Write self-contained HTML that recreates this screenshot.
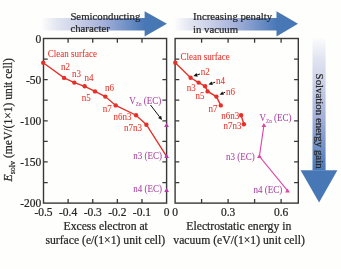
<!DOCTYPE html>
<html><head><meta charset="utf-8"><style>
html,body{margin:0;padding:0;background:#fefefc;width:341px;height:269px;overflow:hidden}
svg{display:block;font-family:"Liberation Serif",serif;filter:blur(0.35px)}
</style></head><body>
<svg width="341" height="269" viewBox="0 0 341 269">
<defs>
<linearGradient id="gh1" gradientUnits="userSpaceOnUse" x1="42" x2="145" y1="0" y2="0"><stop offset="0" stop-color="#fcfcfd"/><stop offset="0.15" stop-color="#e2e5f1"/><stop offset="0.35" stop-color="#c9cfe7"/><stop offset="0.6" stop-color="#a3b0d9"/><stop offset="1" stop-color="#4877b6"/></linearGradient>
<linearGradient id="gh2" gradientUnits="userSpaceOnUse" x1="175" x2="277" y1="0" y2="0"><stop offset="0" stop-color="#fcfcfd"/><stop offset="0.15" stop-color="#e2e5f1"/><stop offset="0.35" stop-color="#c9cfe7"/><stop offset="0.6" stop-color="#a3b0d9"/><stop offset="1" stop-color="#4877b6"/></linearGradient>
<linearGradient id="gv" gradientUnits="userSpaceOnUse" x1="0" x2="0" y1="38" y2="171"><stop offset="0" stop-color="#fcfcfd"/><stop offset="0.15" stop-color="#e2e5f1"/><stop offset="0.35" stop-color="#c9cfe7"/><stop offset="0.6" stop-color="#a3b0d9"/><stop offset="1" stop-color="#4877b6"/></linearGradient>
</defs>
<path d="M42 17.9H145V30.4H42Z" fill="url(#gh1)"/><path d="M144.6 11.3L166.9 23.8L144.6 36.4Z" fill="#4877b6"/>
<path d="M175 17.9H277V30.4H175Z" fill="url(#gh2)"/><path d="M276.5 11.3L298 23.8L276.5 36.4Z" fill="#4877b6"/>
<path d="M312.5 38.2H325.6V170.6H312.5Z" fill="url(#gv)"/><path d="M300.6 170.2L319.1 202.4L337.4 170.2Z" fill="#4877b6"/>
<text x="70.4" y="19.8" font-size="10.75" fill="#262626" stroke="#262626" stroke-width="0.22" text-anchor="start">Semiconducting</text>
<text x="70.4" y="32.3" font-size="10.75" fill="#262626" stroke="#262626" stroke-width="0.22" text-anchor="start">character</text>
<text x="193" y="20.3" font-size="10.75" fill="#262626" stroke="#262626" stroke-width="0.22" text-anchor="start">Increasing penalty</text>
<text x="193" y="32.7" font-size="10.75" fill="#262626" stroke="#262626" stroke-width="0.22" text-anchor="start">in vacuum</text>
<text transform="translate(316,73.6) rotate(90)" font-size="10.85" fill="#262626" stroke="#262626" stroke-width="0.22">Solvation energy gain</text>
<rect x="43.5" y="38.5" width="123.10" height="164.60" fill="none" stroke="#383838" stroke-width="1.4"/>
<path d="M68.12 203.1v-4.2M68.12 38.5v4.2M92.74 203.1v-4.2M92.74 38.5v4.2M117.36 203.1v-4.2M117.36 38.5v4.2M141.98 203.1v-4.2M141.98 38.5v4.2M43.5 59.08h4.2M166.6 59.08h-4.2M43.5 79.65h4.2M166.6 79.65h-4.2M43.5 100.22h4.2M166.6 100.22h-4.2M43.5 120.80h4.2M166.6 120.80h-4.2M43.5 141.38h4.2M166.6 141.38h-4.2M43.5 161.95h4.2M166.6 161.95h-4.2M43.5 182.53h4.2M166.6 182.53h-4.2" stroke="#383838" stroke-width="1.3" fill="none"/>
<rect x="175.1" y="38.5" width="123.20" height="164.60" fill="none" stroke="#383838" stroke-width="1.4"/>
<path d="M201.60 203.1v-4.2M201.60 38.5v4.2M228.10 203.1v-4.2M228.10 38.5v4.2M254.60 203.1v-4.2M254.60 38.5v4.2M281.10 203.1v-4.2M281.10 38.5v4.2M175.1 59.08h4.2M298.3 59.08h-4.2M175.1 79.65h4.2M298.3 79.65h-4.2M175.1 100.22h4.2M298.3 100.22h-4.2M175.1 120.80h4.2M298.3 120.80h-4.2M175.1 141.38h4.2M298.3 141.38h-4.2M175.1 161.95h4.2M298.3 161.95h-4.2M175.1 182.53h4.2M298.3 182.53h-4.2" stroke="#383838" stroke-width="1.3" fill="none"/>
<text x="41.3" y="42.5" font-size="11.5" fill="#262626" stroke="#262626" stroke-width="0.22" text-anchor="end">0</text>
<text x="41.3" y="83.65" font-size="11.5" fill="#262626" stroke="#262626" stroke-width="0.22" text-anchor="end">-50</text>
<text x="41.3" y="124.8" font-size="11.5" fill="#262626" stroke="#262626" stroke-width="0.22" text-anchor="end">-100</text>
<text x="41.3" y="165.95" font-size="11.5" fill="#262626" stroke="#262626" stroke-width="0.22" text-anchor="end">-150</text>
<text x="41.3" y="207.1" font-size="11.5" fill="#262626" stroke="#262626" stroke-width="0.22" text-anchor="end">-200</text>
<text x="43.5" y="216.0" font-size="11.5" fill="#262626" stroke="#262626" stroke-width="0.22" text-anchor="middle">-0.5</text>
<text x="68.12" y="216.0" font-size="11.5" fill="#262626" stroke="#262626" stroke-width="0.22" text-anchor="middle">-0.4</text>
<text x="92.74" y="216.0" font-size="11.5" fill="#262626" stroke="#262626" stroke-width="0.22" text-anchor="middle">-0.3</text>
<text x="117.35999999999999" y="216.0" font-size="11.5" fill="#262626" stroke="#262626" stroke-width="0.22" text-anchor="middle">-0.2</text>
<text x="141.98" y="216.0" font-size="11.5" fill="#262626" stroke="#262626" stroke-width="0.22" text-anchor="middle">-0.1</text>
<text x="166.6" y="216.0" font-size="11.5" fill="#262626" stroke="#262626" stroke-width="0.22" text-anchor="middle">0</text>
<text x="175.1" y="216.0" font-size="11.5" fill="#262626" stroke="#262626" stroke-width="0.22" text-anchor="middle">0</text>
<text x="228.1" y="216.0" font-size="11.5" fill="#262626" stroke="#262626" stroke-width="0.22" text-anchor="middle">0.3</text>
<text x="281.1" y="216.0" font-size="11.5" fill="#262626" stroke="#262626" stroke-width="0.22" text-anchor="middle">0.6</text>
<text x="105.7" y="230.4" font-size="11.7" fill="#262626" stroke="#262626" stroke-width="0.22" text-anchor="middle">Excess electron at</text>
<text x="105.3" y="244.4" font-size="11.7" fill="#262626" stroke="#262626" stroke-width="0.22" text-anchor="middle">surface (e/(1×1) unit cell)</text>
<text x="238.8" y="230.4" font-size="11.7" fill="#262626" stroke="#262626" stroke-width="0.22" text-anchor="middle">Electrostatic energy in</text>
<text x="239.1" y="244.4" font-size="11.7" fill="#262626" stroke="#262626" stroke-width="0.22" text-anchor="middle">vacuum (eV/(1×1) unit cell)</text>
<text transform="translate(12.0,119.8) rotate(-90)" font-size="11.6" fill="#262626" stroke="#262626" stroke-width="0.22" text-anchor="middle"><tspan font-style="italic">E</tspan><tspan font-size="8" dy="2.5">solv</tspan><tspan dy="-2.5"> (meV/(1×1) unit cell)</tspan></text>
<polyline points="43.2,62.8 64.1,77.9 74.3,82.6 84.7,86.3 95.0,91.4 105.3,96.6 115.7,105.4 136.1,115.2 146.4,124.7 166.6,156.3" fill="none" stroke="#e5302a" stroke-width="1.35"/>
<circle cx="43.2" cy="62.8" r="2.2" fill="#e5302a"/>
<circle cx="64.1" cy="77.9" r="2.2" fill="#e5302a"/>
<circle cx="74.3" cy="82.6" r="2.2" fill="#e5302a"/>
<circle cx="84.7" cy="86.3" r="2.2" fill="#e5302a"/>
<circle cx="95.0" cy="91.4" r="2.2" fill="#e5302a"/>
<circle cx="105.3" cy="96.6" r="2.2" fill="#e5302a"/>
<circle cx="115.7" cy="105.4" r="2.2" fill="#e5302a"/>
<circle cx="136.1" cy="115.2" r="2.2" fill="#e5302a"/>
<circle cx="146.4" cy="124.7" r="2.2" fill="#e5302a"/>
<path d="M164.10 127.00L168.90 127.00L166.50 123.00Z" fill="#b83aa8"/>
<path d="M164.20 158.10L169.00 158.10L166.60 154.10Z" fill="#b83aa8"/>
<path d="M164.20 192.00L169.00 192.00L166.60 188.00Z" fill="#b83aa8"/>
<polyline points="175.3,62.7 190.6,77.8 198.6,82.6 205.1,86.2 207.6,91.4 216.4,96.6 220.8,105.4" fill="none" stroke="#e5302a" stroke-width="1.35"/>
<polyline points="241.1,115.2 243.9,124.2" fill="none" stroke="#e5302a" stroke-width="1.35"/>
<circle cx="175.3" cy="62.7" r="2.2" fill="#e5302a"/>
<circle cx="190.6" cy="77.8" r="2.2" fill="#e5302a"/>
<circle cx="198.6" cy="82.6" r="2.2" fill="#e5302a"/>
<circle cx="205.1" cy="86.2" r="2.2" fill="#e5302a"/>
<circle cx="207.6" cy="91.4" r="2.2" fill="#e5302a"/>
<circle cx="216.4" cy="96.6" r="2.2" fill="#e5302a"/>
<circle cx="220.8" cy="105.4" r="2.2" fill="#e5302a"/>
<circle cx="241.1" cy="115.2" r="2.2" fill="#e5302a"/>
<circle cx="243.9" cy="124.2" r="2.2" fill="#e5302a"/>
<polyline points="263.9,125.3 259.4,156.3 287.5,190.6" fill="none" stroke="#dc46a4" stroke-width="1.1"/>
<path d="M261.50 127.10L266.30 127.10L263.90 123.10Z" fill="#dc46a4"/>
<path d="M257.00 158.10L261.80 158.10L259.40 154.10Z" fill="#dc46a4"/>
<path d="M285.10 192.40L289.90 192.40L287.50 188.40Z" fill="#dc46a4"/>
<text transform="translate(47.8,56.8) scale(0.92,1)" font-size="9.8" fill="#e5302a" stroke="#e5302a" stroke-width="0.05" text-anchor="start">Clean surface</text>
<text transform="translate(61,70) scale(0.92,1)" font-size="9.8" fill="#e5302a" stroke="#e5302a" stroke-width="0.05" text-anchor="start">n2</text>
<text transform="translate(72,76.5) scale(0.92,1)" font-size="9.8" fill="#e5302a" stroke="#e5302a" stroke-width="0.05" text-anchor="start">n3</text>
<text transform="translate(84.5,80.5) scale(0.92,1)" font-size="9.8" fill="#e5302a" stroke="#e5302a" stroke-width="0.05" text-anchor="start">n4</text>
<text transform="translate(81.7,100.8) scale(0.92,1)" font-size="9.8" fill="#e5302a" stroke="#e5302a" stroke-width="0.05" text-anchor="start">n5</text>
<text transform="translate(105,90.8) scale(0.92,1)" font-size="9.8" fill="#e5302a" stroke="#e5302a" stroke-width="0.05" text-anchor="start">n6</text>
<text transform="translate(102.7,111.6) scale(0.92,1)" font-size="9.8" fill="#e5302a" stroke="#e5302a" stroke-width="0.05" text-anchor="start">n7</text>
<text transform="translate(113.5,120) scale(0.92,1)" font-size="9.8" fill="#e5302a" stroke="#e5302a" stroke-width="0.05" text-anchor="start">n6n3</text>
<text transform="translate(124,131.4) scale(0.92,1)" font-size="9.8" fill="#e5302a" stroke="#e5302a" stroke-width="0.05" text-anchor="start">n7n3</text>
<text transform="translate(180.6,60.2) scale(0.92,1)" font-size="9.8" fill="#e5302a" stroke="#e5302a" stroke-width="0.05" text-anchor="start">Clean surface</text>
<text transform="translate(200.8,75.0) scale(0.92,1)" font-size="9.8" fill="#e5302a" stroke="#e5302a" stroke-width="0.05" text-anchor="start">n2</text>
<text transform="translate(186.7,90.5) scale(0.92,1)" font-size="9.8" fill="#e5302a" stroke="#e5302a" stroke-width="0.05" text-anchor="start">n3</text>
<text transform="translate(216,84.2) scale(0.92,1)" font-size="9.8" fill="#e5302a" stroke="#e5302a" stroke-width="0.05" text-anchor="start">n4</text>
<text transform="translate(195.6,98.8) scale(0.92,1)" font-size="9.8" fill="#e5302a" stroke="#e5302a" stroke-width="0.05" text-anchor="start">n5</text>
<text transform="translate(226,94.7) scale(0.92,1)" font-size="9.8" fill="#e5302a" stroke="#e5302a" stroke-width="0.05" text-anchor="start">n6</text>
<text transform="translate(208.5,112) scale(0.92,1)" font-size="9.8" fill="#e5302a" stroke="#e5302a" stroke-width="0.05" text-anchor="start">n7</text>
<text transform="translate(221.2,118.8) scale(0.92,1)" font-size="9.8" fill="#e5302a" stroke="#e5302a" stroke-width="0.05" text-anchor="start">n6n3</text>
<text transform="translate(223.5,129.3) scale(0.92,1)" font-size="9.8" fill="#e5302a" stroke="#e5302a" stroke-width="0.05" text-anchor="start">n7n3</text>
<text transform="translate(133.2,159.2) scale(0.92,1)" font-size="9.8" fill="#a8409f" stroke="#a8409f" stroke-width="0.05" text-anchor="start">n3 (EC)</text>
<text transform="translate(133.2,191.5) scale(0.92,1)" font-size="9.8" fill="#a8409f" stroke="#a8409f" stroke-width="0.05" text-anchor="start">n4 (EC)</text>
<text transform="translate(225.9,159.8) scale(0.92,1)" font-size="9.8" fill="#a8409f" stroke="#a8409f" stroke-width="0.05" text-anchor="start">n3 (EC)</text>
<text transform="translate(253.5,192.8) scale(0.92,1)" font-size="9.8" fill="#a8409f" stroke="#a8409f" stroke-width="0.05" text-anchor="start">n4 (EC)</text>
<text transform="translate(129.3,104) scale(0.92,1)" font-size="9.8" fill="#a8409f" stroke="#a8409f" stroke-width="0.05">V<tspan font-size="5.6" dy="2">Zn</tspan><tspan dy="-2"> (EC)</tspan></text>
<text transform="translate(259.5,120.5) scale(0.92,1)" font-size="9.8" fill="#a8409f" stroke="#a8409f" stroke-width="0.05">V<tspan font-size="5.6" dy="2">Zn</tspan><tspan dy="-2"> (EC)</tspan></text>
<path d="M150.5 105L159.63 116.90" stroke="#111" stroke-width="1.0"/>
<path d="M162 120L158.12 118.06L161.13 115.75Z" fill="#111"/>
<path d="M200 74L197.13 74.87" stroke="#111" stroke-width="1.0"/>
<path d="M193.4 76L196.58 73.05L197.68 76.69Z" fill="#111"/>
<path d="M215.2 82.2L212.19 83.23" stroke="#111" stroke-width="1.0"/>
<path d="M208.5 84.5L211.57 81.44L212.81 85.03Z" fill="#111"/>
<path d="M225.2 92.2L223.16 93.11" stroke="#111" stroke-width="1.0"/>
<path d="M219.6 94.7L222.39 91.38L223.94 94.85Z" fill="#111"/>
</svg></body></html>
